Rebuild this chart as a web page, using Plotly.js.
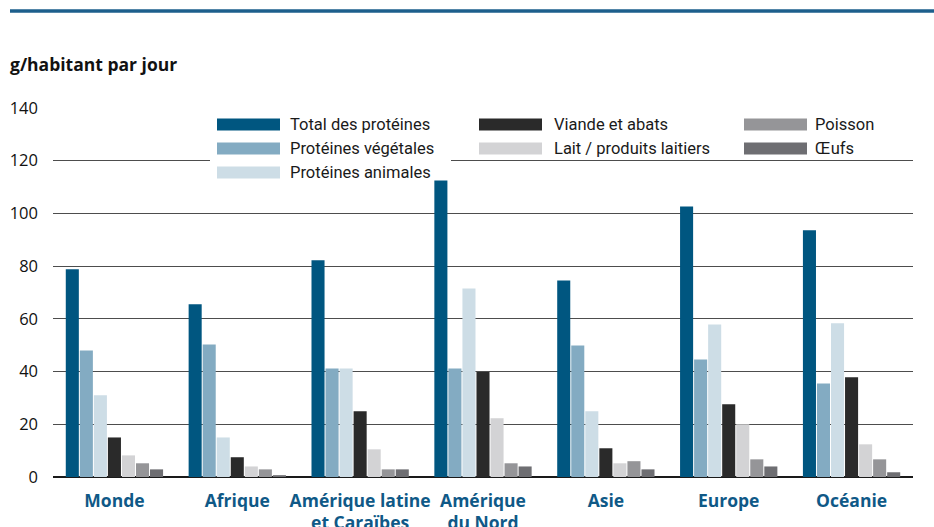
<!DOCTYPE html>
<html>
<head>
<meta charset="utf-8">
<script src="https://cdn.plot.ly/plotly-3.0.1.min.js"></script>
<style>
  html, body { margin: 0; padding: 0; background: #fff; }
  #chart { width: 934px; height: 527px; }
</style>
</head>
<body>
<div id="chart"></div>
<script>
// Protein supply per inhabitant per day, by region (g)
const regions = ["Monde", "Afrique", "Amérique latine<br>et Caraïbes", "Amérique<br>du Nord", "Asie", "Europe", "Océanie"];

const seriesNames = ["Total des protéines", "Protéines végétales", "Protéines animales",
                     "Viande et abats", "Lait / produits laitiers", "Poisson", "Œufs"];

const totalProteins  = [78.8, 65.5, 82.2, 112.5, 74.6, 102.6, 93.6];
const plantProteins  = [48.0, 50.3, 41.2, 41.2, 49.9, 44.6, 35.5];
const animalProteins = [31.0, 15.0, 41.2, 71.5, 24.9, 57.9, 58.3];
const meatOffal      = [15.0, 7.5, 24.9, 39.8, 10.9, 27.6, 37.8];
const dairy          = [8.2, 4.0, 10.5, 22.3, 5.2, 20.0, 12.4];
const fish           = [5.2, 2.9, 2.9, 5.2, 6.0, 6.7, 6.7];
const eggs           = [2.9, 0.7, 2.9, 4.0, 2.9, 4.0, 1.8];

const yTicks = [0, 20, 40, 60, 80, 100, 120, 140];

const seriesValues = [totalProteins, plantProteins, animalProteins, meatOffal, dairy, fish, eggs];
const colors = ["#005680", "#83abc2", "#cddde6", "#2a2a2a", "#d3d3d5", "#959598", "#6e6e72"];

// Page geometry (px) used to place the hand-built legend and decorations
const W = 934, H = 527;
const M = { l: 53, r: 21, t: 108, b: 50 };
const PW = W - M.l - M.r, PH = H - M.t - M.b;
const px = x => (x - M.l) / PW;
const py = y => (H - M.b - y) / PH;

const traces = seriesValues.map((vals, i) => ({
  type: "bar",
  name: seriesNames[i],
  x: regions,
  y: vals,
  marker: { color: colors[i], line: { width: 0 } },
  hoverinfo: "skip",
  showlegend: false
}));

// Legend: three columns of wide swatches
const legendCols = [
  { sx: 217, tx: 288, items: [0, 1, 2] },
  { sx: 479, tx: 552, items: [3, 4] },
  { sx: 744, tx: 813, items: [5, 6] }
];
const rowY = [124.5, 148.5, 172.5];
const swW = 63, swH = 12;

const shapes = [
  // rule across the top of the figure
  { type: "line", xref: "paper", yref: "paper",
    x0: px(10), x1: px(934), y0: py(11), y1: py(11),
    line: { color: "#1d5f8c", width: 3.5 } },
  // white backing behind the first legend column
  { type: "rect", xref: "paper", yref: "paper", layer: "above",
    x0: px(210), x1: px(451), y0: py(165), y1: py(155),
    fillcolor: "#ffffff", line: { width: 0 } }
];
const annotations = [
  { text: "<b>g/habitant par jour</b>", xref: "paper", yref: "paper",
    x: px(8), y: py(64), xanchor: "left", yanchor: "middle", showarrow: false,
    font: { family: "Open Sans, sans-serif", size: 17.5, color: "#111" } }
];

legendCols.forEach(col => {
  col.items.forEach((idx, r) => {
    shapes.push({ type: "rect", xref: "paper", yref: "paper", layer: "above",
      x0: px(col.sx), x1: px(col.sx + swW),
      y0: py(rowY[r] + swH / 2), y1: py(rowY[r] - swH / 2),
      fillcolor: colors[idx], line: { width: 0 } });
    annotations.push({ text: seriesNames[idx], xref: "paper", yref: "paper",
      x: px(col.tx), y: py(rowY[r]), xanchor: "left", yanchor: "middle",
      showarrow: false,
      font: { family: "Roboto, sans-serif", size: 16.5, color: "#1a1a1a" } });
  });
});

const layout = {
  width: W, height: H,
  margin: M,
  paper_bgcolor: "#ffffff",
  plot_bgcolor: "#ffffff",
  barmode: "group",
  bargap: 0.2,
  bargroupgap: 0.07,
  showlegend: false,
  xaxis: {
    type: "category",
    tickvals: regions,
    ticktext: regions.map(r => "<b>" + r + "</b>"),
    ticks: "",
    ticklabelstandoff: 11,
    showgrid: false,
    showline: false,
    zeroline: false,
    tickfont: { family: "Open Sans, sans-serif", size: 17.5, color: "#0f5987" },
    fixedrange: true
  },
  yaxis: {
    range: [0, 140],
    tickvals: yTicks,
    ticktext: yTicks.map(String),
    ticks: "",
    ticklabelstandoff: 14,
    showgrid: true,
    gridcolor: "#4d4d4d",
    gridwidth: 1.2,
    zeroline: true,
    zerolinecolor: "#1a1a1a",
    zerolinewidth: 1.6,
    showline: false,
    tickfont: { family: "Open Sans, sans-serif", size: 16.5, color: "#111" },
    fixedrange: true
  },
  shapes: shapes,
  annotations: annotations
};

Plotly.newPlot("chart", traces, layout, { displayModeBar: false, staticPlot: true });
</script>
</body>
</html>
